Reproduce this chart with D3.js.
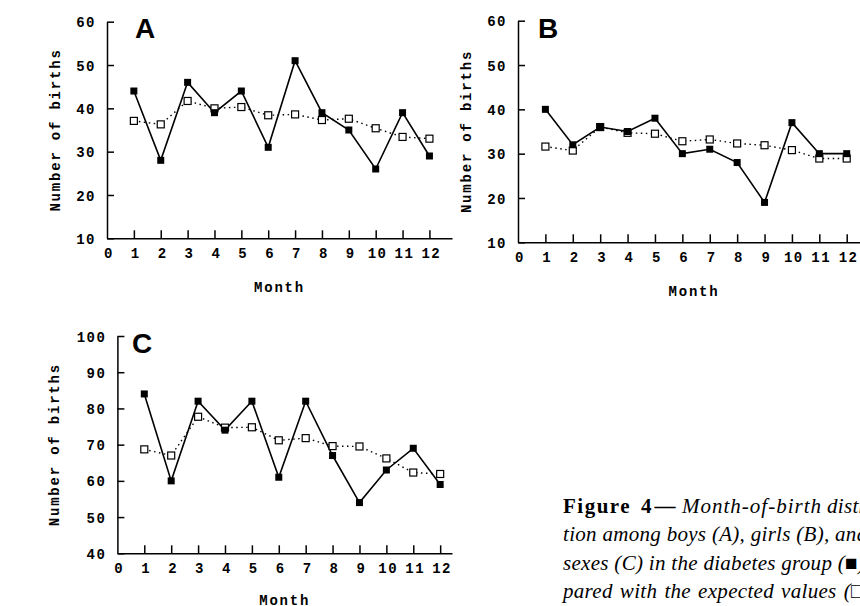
<!DOCTYPE html>
<html>
<head>
<meta charset="utf-8">
<script src="https://cdn.jsdelivr.net/npm/d3@7"></script>
<style>
  body { margin: 0; background: #fff; }
  svg { display: block; }
  .axis path, .axis line { stroke: #000; stroke-width: 1.5; }
  .axis text { font-family: "Liberation Mono", "DejaVu Sans Mono", monospace; font-weight: bold; font-size: 14px; letter-spacing: 1.5px; fill: #000; }
  .lab { font-family: "Liberation Mono", "DejaVu Sans Mono", monospace; font-weight: bold; font-size: 14px; letter-spacing: 1.8px; }
  .panel { font-family: "Liberation Sans", Arial, sans-serif; font-weight: bold; font-size: 28px; }
  .cap { font-family: "Liberation Serif", serif; font-style: italic; font-size: 21px; letter-spacing: 0.3px; }
</style>
</head>
<body>
<script>
var months = [1, 2, 3, 4, 5, 6, 7, 8, 9, 10, 11, 12];
var monthTicks = [0, 1, 2, 3, 4, 5, 6, 7, 8, 9, 10, 11, 12];

// observed (diabetes group) and expected counts
var boysObserved = [44, 28, 46, 39, 44, 31, 51, 39, 35, 26, 39, 29];
var boysExpected = [37.1, 36.3, 41.7, 40.0, 40.3, 38.4, 38.6, 37.3, 37.6, 35.4, 33.4, 33.0];
var girlsObserved = [40, 32, 36, 35, 38, 30, 31, 28, 19, 37, 30, 30];
var girlsExpected = [31.6, 30.7, 36.0, 34.7, 34.5, 32.8, 33.2, 32.3, 31.9, 30.8, 28.9, 28.9];
var allObserved = [84, 60, 82, 74, 82, 61, 82, 67, 54, 63, 69, 59];
var allExpected = [68.7, 67.0, 77.7, 74.7, 74.8, 71.2, 71.8, 69.6, 69.5, 66.2, 62.3, 61.9];

var ticksAB = [10, 20, 30, 40, 50, 60];
var ticksC = [40, 50, 60, 70, 80, 90, 100];

var svg = d3.select('body').append('svg').attr('width', 860).attr('height', 606);

var panels = [
  { letter: 'A', obs: boysObserved, exp: boysExpected, yTicks: ticksAB,
    x0: 107, x1: 452, xMax: 12.84, yTop: 21.7, yBot: 238.3, lx: 135, ly: 38, ylabX: 55, mY: 292 },
  { letter: 'B', obs: girlsObserved, exp: girlsExpected, yTicks: ticksAB,
    x0: 518, x1: 870, xMax: 12.85, yTop: 20.7, yBot: 242.3, lx: 538, ly: 38, ylabX: 466, mY: 296 },
  { letter: 'C', obs: allObserved, exp: allExpected, yTicks: ticksC,
    x0: 117.4, x1: 452, xMax: 12.44, yTop: 336, yBot: 553.3, lx: 132, ly: 353, ylabX: 54, mY: 605 }
];

panels.forEach(function(p) {
  var x = d3.scaleLinear().domain([0, p.xMax]).range([p.x0, p.x1]);
  var y = d3.scaleLinear().domain(d3.extent(p.yTicks)).range([p.yBot, p.yTop]);
  var g = svg.append('g');

  g.append('g').attr('class', 'axis')
      .attr('transform', 'translate(' + p.x0 + ',0)')
      .call(d3.axisLeft(y).tickValues(p.yTicks).tickSizeInner(-7).tickSizeOuter(0).tickPadding(11))
      .call(function(a) { a.selectAll('text').attr('dy', '0.36em'); });

  var xa = g.append('g').attr('class', 'axis')
      .attr('transform', 'translate(0,' + p.yBot + ')')
      .call(d3.axisBottom(x).tickValues(monthTicks).tickSizeInner(-8).tickSizeOuter(0).tickPadding(10).tickFormat(d3.format('d')));
  xa.selectAll('.tick').filter(function(d) { return d === 0; }).select('line').remove();
  xa.selectAll('text').attr('dx', '0.1em');

  // axis titles
  g.append('text').attr('class', 'lab')
      .attr('transform', 'translate(' + p.ylabX + ',' + ((p.yTop + p.yBot) / 2) + ') rotate(-90)')
      .attr('text-anchor', 'middle')
      .attr('dy', '0.35em')
      .text('Number of births');
  g.append('text').attr('class', 'lab')
      .attr('x', (p.x0 + p.x1) / 2)
      .attr('y', p.mY)
      .attr('text-anchor', 'middle')
      .text('Month');

  g.append('text').attr('class', 'panel').attr('x', p.lx).attr('y', p.ly).text(p.letter);

  var line = d3.line().x(function(d, i) { return x(months[i]); }).y(function(d) { return y(d); });

  g.append('path').datum(p.exp)
      .attr('d', line)
      .attr('fill', 'none').attr('stroke', '#000').attr('stroke-width', 1.4)
      .attr('stroke-dasharray', '1.5,3.5');
  g.append('path').datum(p.obs)
      .attr('d', line)
      .attr('fill', 'none').attr('stroke', '#000').attr('stroke-width', 1.6);

  g.selectAll('rect.exp').data(p.exp).enter().append('rect')
      .attr('class', 'exp')
      .attr('x', function(d, i) { return x(months[i]) - 3.5; })
      .attr('y', function(d) { return y(d) - 3.5; })
      .attr('width', 7).attr('height', 7)
      .attr('fill', '#fff').attr('stroke', '#000').attr('stroke-width', 1.2);
  g.selectAll('rect.obs').data(p.obs).enter().append('rect')
      .attr('class', 'obs')
      .attr('x', function(d, i) { return x(months[i]) - 3.5; })
      .attr('y', function(d) { return y(d) - 3.5; })
      .attr('width', 7).attr('height', 7)
      .attr('fill', '#000');
});

// caption, justified and running off the right edge as in the source page
var capLines = [
  null,
  'tion among boys (A), girls (B), and both',
  'sexes (C) in the diabetes group (\u25A0), com-',
  'pared with the expected values (\u25A1).'
];
var capWordSpacing = [0, 0, 0, 1.6];
var cap = svg.append('g').attr('class', 'cap');
var first = cap.append('text').attr('y', 513);
first.append('tspan').attr('x', 563).attr('font-style', 'normal').attr('font-weight', 'bold').attr('letter-spacing', '1.5px').text('Figure');
first.append('tspan').attr('x', 641).attr('font-style', 'normal').attr('font-weight', 'bold').attr('letter-spacing', '3px').text('4\u2014');
first.append('tspan').attr('x', 682).attr('letter-spacing', '1px').text('Month-of-birth');
first.append('tspan').attr('x', 827).text('distribu-');
capLines.forEach(function(t, i) {
  if (!t) return;
  cap.append('text').attr('x', 563).attr('y', 513 + i * 28.3)
      .attr('word-spacing', capWordSpacing[i])
      .text(t);
});
</script>
</body>
</html>
